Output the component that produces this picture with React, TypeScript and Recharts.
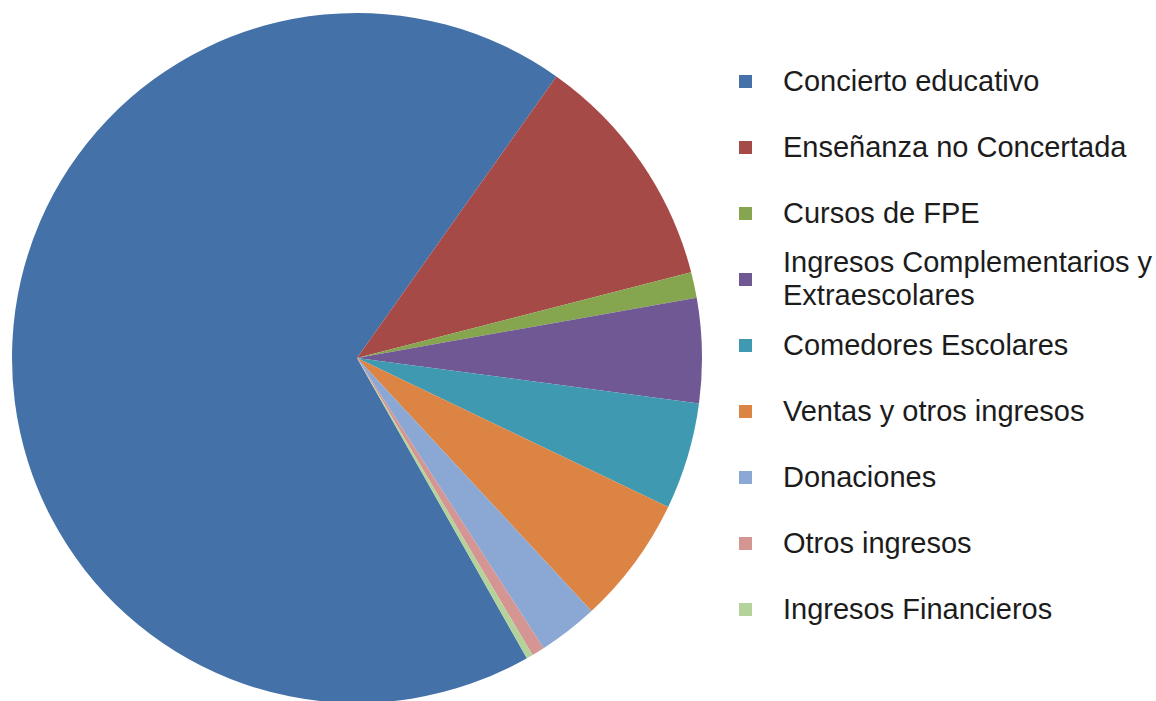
import React from 'react';
import { PieChart, Pie, Cell, Legend } from 'recharts';

// Income categories, shares in percent
const categories = [
  'Concierto educativo',
  'Enseñanza no Concertada',
  'Cursos de FPE',
  'Ingresos Complementarios y Extraescolares',
  'Comedores Escolares',
  'Ventas y otros ingresos',
  'Donaciones',
  'Otros ingresos',
  'Ingresos Financieros',
];
const shares = [68.0, 11.2, 1.2, 4.9, 5.0, 6.0, 2.8, 0.6, 0.3];
const colors = [
  '#4472a8',
  '#a64a48',
  '#86a54f',
  '#6f5894',
  '#3f99b1',
  '#dc8443',
  '#8ba7d3',
  '#d49593',
  '#b3d39a',
];

const data = categories.map((name, i) => ({ name, value: shares[i] }));

const FONT = '"Liberation Sans", Arial, sans-serif';

// keep the series order (recharts would sort the payload by name)
const renderLegend = () => (
  <div style={{ fontFamily: FONT }}>
    {categories.map((name, i) => (
      <div
        key={`legend-${i}`}
        style={{ display: 'flex', alignItems: 'center', height: 66 }}
      >
        <span
          style={{
            display: 'inline-block',
            width: 13,
            height: 13,
            marginLeft: 9,
            marginRight: 31,
            background: colors[i],
            flexShrink: 0,
          }}
        />
        <span
          style={{
            fontSize: 29,
            lineHeight: '33px',
            color: '#1c1c1c',
            width: 385,
          }}
        >
          {name}
        </span>
      </div>
    ))}
  </div>
);

export default function App() {
  return (
    <div style={{ position: 'absolute', left: 0, top: 0, background: '#fff' }}>
      <PieChart width={1156} height={701} margin={{ top: 0, right: 0, bottom: 0, left: 0 }}>
        <Pie
          data={data}
          dataKey="value"
          nameKey="name"
          cx={357}
          cy={358}
          outerRadius={345}
          startAngle={299.5}
          endAngle={-60.5}
          stroke="none"
          isAnimationActive={false}
        >
          {data.map((d, i) => (
            <Cell key={`cell-${d.name}`} fill={colors[i]} />
          ))}
        </Pie>
        <Legend
          layout="vertical"
          align="right"
          verticalAlign="top"
          content={renderLegend}
          wrapperStyle={{ left: 730, top: 48, width: 430 }}
        />
      </PieChart>
    </div>
  );
}
